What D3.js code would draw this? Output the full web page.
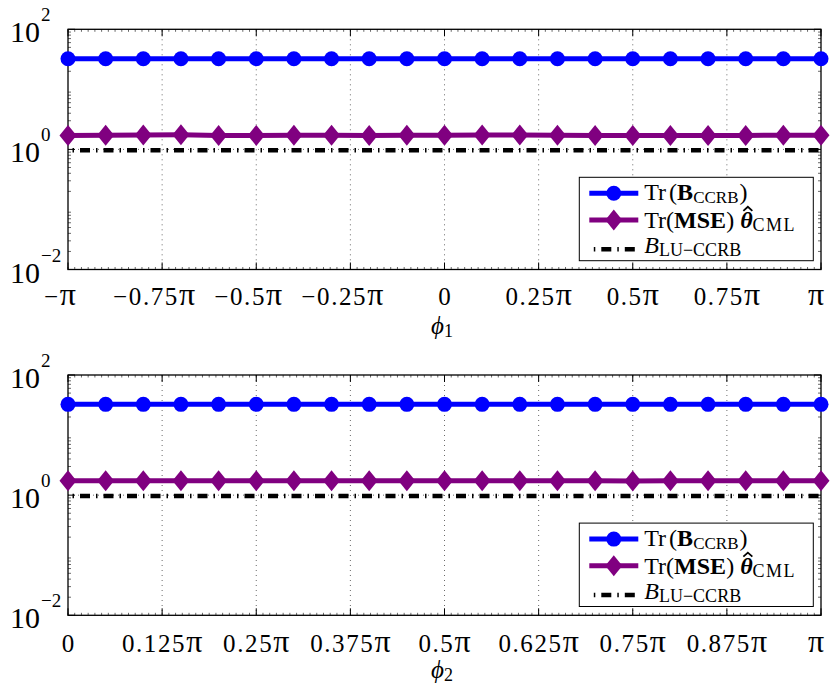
<!DOCTYPE html>
<html>
<head>
<meta charset="utf-8">
<script src="https://cdn.jsdelivr.net/npm/d3@7"></script>
<style>
  body { margin: 0; background: #fff; }
  svg { display: block; }
</style>
</head>
<body>
<svg id="chart" width="835" height="687"></svg>
<script>
// ---- data (x positions in units of pi) ----
const phi1OverPi = [-1, -0.9, -0.8, -0.7, -0.6, -0.5, -0.4, -0.3, -0.2, -0.1, 0,
                    0.1, 0.2, 0.3, 0.4, 0.5, 0.6, 0.7, 0.8, 0.9, 1];
const trB1 = [32.3, 32.3, 32.3, 32.3, 32.3, 32.3, 32.3, 32.3, 32.3, 32.3, 32.3,
              32.3, 32.3, 32.3, 32.3, 32.3, 32.3, 32.3, 32.3, 32.3, 32.3];
const mse1 = [1.70, 1.72, 1.74, 1.75, 1.71, 1.71, 1.72, 1.72, 1.71, 1.72, 1.72,
              1.74, 1.73, 1.72, 1.70, 1.70, 1.71, 1.70, 1.71, 1.72, 1.72];
const lu1 = [0.97, 0.97, 0.97, 0.97, 0.97, 0.97, 0.97, 0.97, 0.97, 0.97, 0.97,
             0.97, 0.97, 0.97, 0.97, 0.97, 0.97, 0.97, 0.97, 0.97, 0.97];

const phi2OverPi = [0, 0.05, 0.1, 0.15, 0.2, 0.25, 0.3, 0.35, 0.4, 0.45, 0.5,
                    0.55, 0.6, 0.65, 0.7, 0.75, 0.8, 0.85, 0.9, 0.95, 1];
const trB2 = [32.5, 32.5, 32.5, 32.5, 32.5, 32.5, 32.5, 32.5, 32.5, 32.5, 32.5,
              32.5, 32.5, 32.5, 32.5, 32.5, 32.5, 32.5, 32.5, 32.5, 32.5];
const mse2 = [1.73, 1.73, 1.74, 1.74, 1.73, 1.73, 1.73, 1.74, 1.73, 1.74, 1.73,
              1.73, 1.74, 1.73, 1.73, 1.72, 1.73, 1.74, 1.73, 1.73, 1.73];
const lu2 = [0.97, 0.97, 0.97, 0.97, 0.97, 0.97, 0.97, 0.97, 0.97, 0.97, 0.97,
             0.97, 0.97, 0.97, 0.97, 0.97, 0.97, 0.97, 0.97, 0.97, 0.97];

const xTicks1OverPi = [-1, -0.75, -0.5, -0.25, 0, 0.25, 0.5, 0.75, 1];
const xTickLabels1 = ["−π", "−0.75π", "−0.5π", "−0.25π", "0", "0.25π", "0.5π", "0.75π", "π"];
const xTicks2OverPi = [0, 0.125, 0.25, 0.375, 0.5, 0.625, 0.75, 0.875, 1];
const xTickLabels2 = ["0", "0.125π", "0.25π", "0.375π", "0.5π", "0.625π", "0.75π", "0.875π", "π"];

const yTicks = [0.01, 1, 100];
const yTickExponents = ["−2", "0", "2"];
const yDomain = [0.01, 100];

const colorTrB = "#0000ff";
const colorMse = "#800080";
const colorLu = "#000000";

// ---- layout ----
const svg = d3.select("#chart");
const SERIF = "'Liberation Serif', 'Times New Roman', Times, serif";
const plotLeft = 68, plotRight = 821;

const panels = [
  { top: 29.3, bottom: 269.5, xs: phi1OverPi, trB: trB1, mse: mse1, lu: lu1,
    ticks: xTicks1OverPi, labels: xTickLabels1, sub: "1", tickBase: 35.5, labelBase: 64 },
  { top: 375, bottom: 615.3, xs: phi2OverPi, trB: trB2, mse: mse2, lu: lu2,
    ticks: xTicks2OverPi, labels: xTickLabels2, sub: "2", tickBase: 37, labelBase: 63 }
];

function diamond(cx, cy) {
  return `M${cx},${cy - 10.5}L${cx + 8.5},${cy}L${cx},${cy + 10.5}L${cx - 8.5},${cy}Z`;
}

function drawPanel(p) {
  const g = svg.append("g");
  const xDom = [p.ticks[0] * Math.PI, p.ticks[p.ticks.length - 1] * Math.PI];
  const x = d3.scaleLinear().domain(xDom).range([plotLeft, plotRight]);
  const y = d3.scaleLog().domain(yDomain).range([p.bottom, p.top]);

  // dotted grid
  const grid = g.append("g").attr("stroke", "#444").attr("stroke-width", 0.8)
    .attr("stroke-dasharray", "1,4");
  p.ticks.slice(1, -1).forEach(t => {
    grid.append("line").attr("x1", x(t * Math.PI)).attr("x2", x(t * Math.PI))
      .attr("y1", p.top).attr("y2", p.bottom);
  });
  yTicks.slice(1, -1).forEach(t => {
    grid.append("line").attr("x1", plotLeft).attr("x2", plotRight)
      .attr("y1", y(t)).attr("y2", y(t));
  });

  // minor ticks
  const majorStep = (p.ticks[1] - p.ticks[0]) * Math.PI;
  const minorStep = majorStep / 14;
  const minor = g.append("g").attr("stroke", "#000").attr("stroke-width", 0.6);
  d3.range(xDom[0], xDom[1] + 1e-9, minorStep).forEach(v => {
    const xx = x(v);
    minor.append("line").attr("x1", xx).attr("x2", xx).attr("y1", p.bottom).attr("y2", p.bottom - 2.5);
    minor.append("line").attr("x1", xx).attr("x2", xx).attr("y1", p.top).attr("y2", p.top + 2.5);
  });
  [-2, -1, 0, 1].forEach(k => {
    d3.range(2, 10).forEach(m => {
      const yy = y(m * Math.pow(10, k));
      minor.append("line").attr("x1", plotLeft).attr("x2", plotLeft + 3).attr("y1", yy).attr("y2", yy);
      minor.append("line").attr("x1", plotRight).attr("x2", plotRight - 3).attr("y1", yy).attr("y2", yy);
    });
  });

  // major ticks
  const major = g.append("g").attr("stroke", "#000").attr("stroke-width", 1);
  p.ticks.forEach(t => {
    const xx = x(t * Math.PI);
    major.append("line").attr("x1", xx).attr("x2", xx).attr("y1", p.bottom).attr("y2", p.bottom - 7);
    major.append("line").attr("x1", xx).attr("x2", xx).attr("y1", p.top).attr("y2", p.top + 7);
  });
  yTicks.forEach(t => {
    major.append("line").attr("x1", plotLeft).attr("x2", plotLeft + 7).attr("y1", y(t)).attr("y2", y(t));
    major.append("line").attr("x1", plotRight).attr("x2", plotRight - 7).attr("y1", y(t)).attr("y2", y(t));
  });

  // frame
  g.append("rect").attr("x", plotLeft).attr("y", p.top)
    .attr("width", plotRight - plotLeft).attr("height", p.bottom - p.top)
    .attr("fill", "none").attr("stroke", "#000").attr("stroke-width", 1.3);

  // x tick labels
  p.ticks.forEach((t, i) => {
    const lab = p.labels[i];
    let dx = 0;
    if (lab.startsWith("−")) dx = -8;
    else if (lab === "π") dx = -5;
    const tx = g.append("text").attr("x", x(t * Math.PI) + dx).attr("y", p.bottom + p.tickBase)
      .attr("text-anchor", "middle").attr("font-family", SERIF).attr("font-size", 25)
      .attr("letter-spacing", 1.6);
    if (lab.endsWith("π")) {
      tx.append("tspan").text(lab.slice(0, -1));
      tx.append("tspan").attr("font-size", 32).attr("letter-spacing", 0).text("π");
    } else {
      tx.attr("letter-spacing", 0).text(lab);
    }
  });

  // y tick labels (10^k)
  yTicks.forEach((t, i) => {
    const base = y(t) + 13;
    g.append("text").attr("x", 40).attr("y", base).attr("text-anchor", "end")
      .attr("font-family", SERIF).attr("font-size", 30).text("10");
    g.append("text").attr("x", 41).attr("y", base - 21).attr("text-anchor", "start")
      .attr("font-family", SERIF).attr("font-size", 19).text(yTickExponents[i]);
  });

  // x axis label
  const xl = g.append("text").attr("x", 442).attr("y", p.bottom + p.labelBase)
    .attr("text-anchor", "middle").attr("font-family", SERIF).attr("font-size", 25);
  xl.append("tspan").attr("font-style", "italic").text("ϕ");
  xl.append("tspan").attr("font-size", 18).attr("dy", 3).text(p.sub);

  // series
  const pts = (vals) => p.xs.map((v, i) => [x(v * Math.PI), y(vals[i])]);
  const line = d3.line();

  const blue = pts(p.trB);
  g.append("path").attr("d", line(blue)).attr("fill", "none")
    .attr("stroke", colorTrB).attr("stroke-width", 5);
  g.append("g").selectAll("circle").data(blue).join("circle")
    .attr("cx", d => d[0]).attr("cy", d => d[1]).attr("r", 7.5).attr("fill", colorTrB);

  const purple = pts(p.mse);
  g.append("path").attr("d", line(purple)).attr("fill", "none")
    .attr("stroke", colorMse).attr("stroke-width", 5);
  g.append("g").selectAll("path").data(purple).join("path")
    .attr("d", d => diamond(d[0], d[1])).attr("fill", colorMse);

  const black = pts(p.lu);
  g.append("path").attr("d", line(black)).attr("fill", "none")
    .attr("stroke", colorLu).attr("stroke-width", 4.5)
    .attr("stroke-dasharray", "10,6,1.5,6").attr("stroke-dashoffset", -12);

  // legend
  const lx = 579.3, ly = p.bottom - 92.2;
  const lg = g.append("g");
  lg.append("rect").attr("x", lx).attr("y", ly).attr("width", 234).attr("height", 83.4)
    .attr("fill", "#fff").attr("stroke", "#000").attr("stroke-width", 1);
  const sx0 = lx + 10, sx1 = lx + 59, sxm = (sx0 + sx1) / 2;
  const rows = [ly + 16, ly + 42.7, ly + 72];
  lg.append("line").attr("x1", sx0).attr("x2", sx1).attr("y1", rows[0]).attr("y2", rows[0])
    .attr("stroke", colorTrB).attr("stroke-width", 5);
  lg.append("circle").attr("cx", sxm).attr("cy", rows[0]).attr("r", 7.5).attr("fill", colorTrB);
  lg.append("line").attr("x1", sx0).attr("x2", sx1).attr("y1", rows[1]).attr("y2", rows[1])
    .attr("stroke", colorMse).attr("stroke-width", 5);
  lg.append("path").attr("d", diamond(sxm, rows[1])).attr("fill", colorMse);
  lg.append("line").attr("x1", sx0).attr("x2", sx1).attr("y1", rows[2]).attr("y2", rows[2])
    .attr("stroke", colorLu).attr("stroke-width", 4.5).attr("stroke-dasharray", "10,6,1.5,6")
    .attr("stroke-dashoffset", -12);

  const tx0 = lx + 65;
  const t1 = lg.append("text").attr("x", tx0).attr("y", ly + 23).attr("font-family", SERIF).attr("font-size", 24);
  t1.append("tspan").text("Tr");
  t1.append("tspan").attr("dx", 3).text("(");
  t1.append("tspan").attr("font-weight", "bold").text("B");
  t1.append("tspan").attr("font-size", 17).attr("dy", 3).text("CCRB");
  t1.append("tspan").attr("dy", -3).attr("dx", 1).text(")");

  const t2 = lg.append("text").attr("x", tx0).attr("y", ly + 51).attr("font-family", SERIF).attr("font-size", 24);
  t2.append("tspan").text("Tr(");
  t2.append("tspan").attr("font-weight", "bold").text("MSE");
  t2.append("tspan").text(") ");
  t2.append("tspan").attr("font-weight", "bold").attr("font-style", "italic").text("θ");
  t2.append("tspan").attr("font-size", 18).attr("dy", 3).attr("letter-spacing", 1.5).text("CML");
  // hat accent drawn as a small chevron centred over the theta glyph
  const thetaIndex = "Tr(MSE) ".length;
  const ext = t2.node().getExtentOfChar(thetaIndex);
  const hx = ext.x + ext.width / 2 + 1.5, hy = ly + 29.5;
  lg.append("path").attr("d", `M${hx - 4.5},${hy + 4}L${hx},${hy}L${hx + 4.5},${hy + 4}`)
    .attr("fill", "none").attr("stroke", "#000").attr("stroke-width", 1.8);

  const t3 = lg.append("text").attr("x", tx0).attr("y", ly + 76).attr("font-family", SERIF).attr("font-size", 24);
  t3.append("tspan").attr("font-style", "italic").text("B");
  t3.append("tspan").attr("font-size", 18).attr("dy", 3).text("LU−CCRB");
}

panels.forEach(drawPanel);
</script>
</body>
</html>
